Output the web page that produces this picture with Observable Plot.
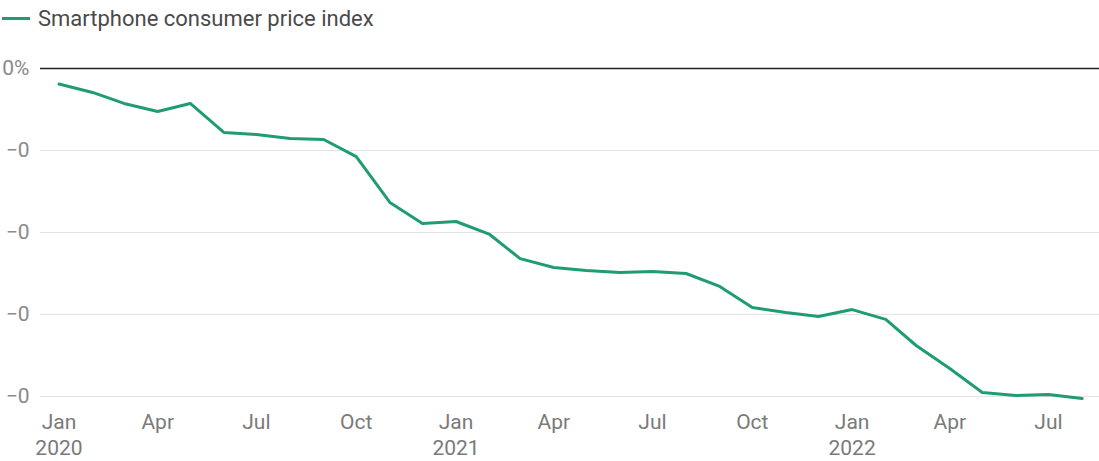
<!DOCTYPE html>
<html>
<head>
<meta charset="utf-8">
<script src="https://cdn.jsdelivr.net/npm/d3@7"></script>
<script src="https://cdn.jsdelivr.net/npm/@observablehq/plot@0.6"></script>
<style>
  body { margin: 0; background: #fff; font-family: Roboto, "Noto Sans", sans-serif; }
  #legend { height: 36px; display: flex; align-items: center; font-size: 22px; color: #4a4a4a; padding-left: 2px; }
  #legend .sw { display: inline-block; width: 28px; height: 3px; background: #1f9c74; margin-right: 8px; }
</style>
</head>
<body>
<div id="legend"><span class="sw"></span><span>Smartphone consumer price index</span></div>
<div id="chart"></div>
<script>
const seriesName = "Smartphone consumer price index";
const months = [
  "2020-01","2020-02","2020-03","2020-04","2020-05","2020-06","2020-07","2020-08","2020-09","2020-10","2020-11","2020-12",
  "2021-01","2021-02","2021-03","2021-04","2021-05","2021-06","2021-07","2021-08","2021-09","2021-10","2021-11","2021-12",
  "2022-01","2022-02","2022-03","2022-04","2022-05","2022-06","2022-07","2022-08"
];
const values = [
  -0.95, -1.46, -2.13, -2.62, -2.13, -3.90, -4.02, -4.27, -4.33, -5.37, -8.17, -9.45,
  -9.33, -10.12, -11.59, -12.13, -12.32, -12.44, -12.38, -12.50, -13.29, -14.57, -14.88, -15.12,
  -14.70, -15.30, -16.89, -18.29, -19.76, -19.94, -19.88, -20.12
];
const yTicks = [0, -5, -10, -15, -20];
const yTickLabels = ["0%", "\u22120", "\u22120", "\u22120", "\u22120"];
const xTickMonths = ["Jan","Apr","Jul","Oct"];

const data = months.map((m, i) => ({date: new Date(m + "-01T00:00:00Z"), value: values[i]}));
const xTicks = d3.utcMonth.every(3).range(new Date("2020-01-01T00:00:00Z"), new Date("2022-08-02T00:00:00Z"));
const fmtX = d => {
  const m = xTickMonths[Math.floor(d.getUTCMonth() / 3)];
  return d.getUTCMonth() === 0 ? m + "\n" + d.getUTCFullYear() : m;
};

const chart = Plot.plot({
  width: 1099,
  height: 425,
  marginTop: 32,
  marginBottom: 65,
  marginLeft: 40,
  marginRight: 0,
  style: {fontFamily: "Roboto, sans-serif", fontSize: "21px", background: "#fff"},
  x: {type: "utc", domain: [new Date("2019-12-15T00:00:00Z"), new Date("2022-08-17T00:00:00Z")]},
  y: {domain: [-20, 0]},
  marks: [
    Plot.ruleY(yTicks.filter(d => d !== 0), {stroke: "#e3e3e3", strokeWidth: 1.2}),
    Plot.axisY({ticks: yTicks, tickSize: 0, tickPadding: 11, tickFormat: d => yTickLabels[yTicks.indexOf(d)], fill: "#8a8a8a", fontSize: 21, label: null}),
    Plot.axisX({ticks: xTicks, tickSize: 0, tickPadding: 14, tickFormat: fmtX, fill: "#7a7a7a", fontSize: 21, lineHeight: 1.24, label: null}),
    Plot.ruleY([0], {stroke: "#222", strokeWidth: 1.6}),
    Plot.line(data, {x: "date", y: "value", stroke: "#1f9c74", strokeWidth: 3, strokeLinejoin: "round"})
  ]
});
document.getElementById("chart").appendChild(chart);
</script>
</body>
</html>
